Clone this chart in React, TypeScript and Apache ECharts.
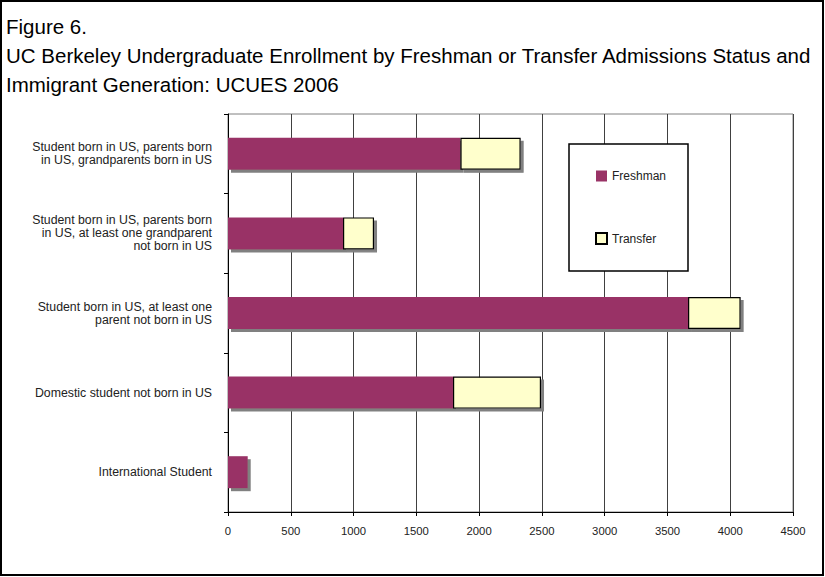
import React, { useEffect, useRef } from "react";
import * as echarts from "echarts";

const categories = [
  "Student born in US, parents born\nin US, grandparents born in US",
  "Student born in US, parents born\nin US, at least one grandparent\nnot born in US",
  "Student born in US, at least one\nparent not born in US",
  "Domestic student not born in US",
  "International Student",
];
const freshman = [1851, 916, 3664, 1792, 157];
const transfer = [480, 247, 419, 701, 0];
const seriesNames = ["Freshman", "Transfer"];
const titleLines = [
  "Figure 6.",
  "UC Berkeley Undergraduate Enrollment by Freshman or Transfer Admissions Status and",
  "Immigrant Generation: UCUES 2006",
];

const FONT = "'Liberation Sans', Arial, sans-serif";

export default function App() {
  const ref = useRef<HTMLDivElement>(null);
  useEffect(() => {
    const chart = echarts.init(ref.current!, null, { renderer: "svg" });
    const shadow = {
      shadowColor: "#808080",
      shadowOffsetX: 3,
      shadowOffsetY: 3,
      shadowBlur: 0,
    };
    chart.setOption({
      animation: false,
      backgroundColor: "#ffffff",
      textStyle: { fontFamily: FONT },
      graphic: [
        {
          type: "rect",
          z: 1,
          shape: { x: 1, y: 1, width: 822, height: 574 },
          style: { fill: "none", stroke: "#000", lineWidth: 2 },
        },
        {
          type: "text",
          z: 1,
          x: 6,
          y: 12,
          style: {
            text: titleLines.join("\n"),
            fontFamily: FONT,
            fontSize: 20.5,
            lineHeight: 29,
            fill: "#000",
            verticalAlign: "top",
          },
        },
        {
          type: "rect",
          z: 5,
          shape: { x: 569, y: 144, width: 119, height: 127 },
          style: { fill: "#fff", stroke: "#000", lineWidth: 1.5 },
        },
      ],
      legend: {
        orient: "vertical",
        left: 595,
        top: 170,
        z: 10,
        icon: "rect",
        itemWidth: 11,
        itemHeight: 11,
        itemGap: 50,
        padding: 0,
        data: seriesNames,
        textStyle: { fontFamily: FONT, fontSize: 12, lineHeight: 12, color: "#222" },
      },
      grid: {
        left: 228,
        right: 32,
        top: 114,
        bottom: 65,
        show: true,
        borderColor: "#808080",
        borderWidth: 1,
        backgroundColor: "transparent",
      },
      xAxis: {
        type: "value",
        min: 0,
        max: 4500,
        interval: 500,
        axisLine: { show: true, lineStyle: { color: "#000", width: 1 } },
        axisTick: { show: true, length: 4, lineStyle: { color: "#000" } },
        splitLine: { show: true, lineStyle: { color: "#404040", width: 1 } },
        axisLabel: {
          fontFamily: FONT,
          fontSize: 11.3,
          color: "#222",
          margin: 13,
          formatter: (v: number) => String(v),
        },
      },
      yAxis: {
        type: "category",
        inverse: true,
        data: categories,
        axisLine: { show: true, lineStyle: { color: "#000", width: 1 } },
        axisTick: { show: true, length: 4, lineStyle: { color: "#000" } },
        axisLabel: {
          fontFamily: FONT,
          fontSize: 12.3,
          lineHeight: 13,
          color: "#222",
          align: "right",
          margin: 16,
        },
      },
      series: [
        {
          name: seriesNames[0],
          type: "bar",
          stack: "total",
          barWidth: 32,
          data: freshman,
          itemStyle: { color: "#993366", ...shadow },
        },
        {
          name: seriesNames[1],
          type: "bar",
          stack: "total",
          barWidth: 32,
          data: transfer.map((v) => (v === 0 ? "-" : v)),
          itemStyle: { color: "#FFFFCC", borderColor: "#000", borderWidth: 1.2, ...shadow },
        },
      ],
    });
    return () => chart.dispose();
  }, []);
  return (
    <div
      ref={ref}
      style={{ position: "fixed", left: 0, top: 0, width: 825, height: 577, background: "#fff" }}
    />
  );
}
